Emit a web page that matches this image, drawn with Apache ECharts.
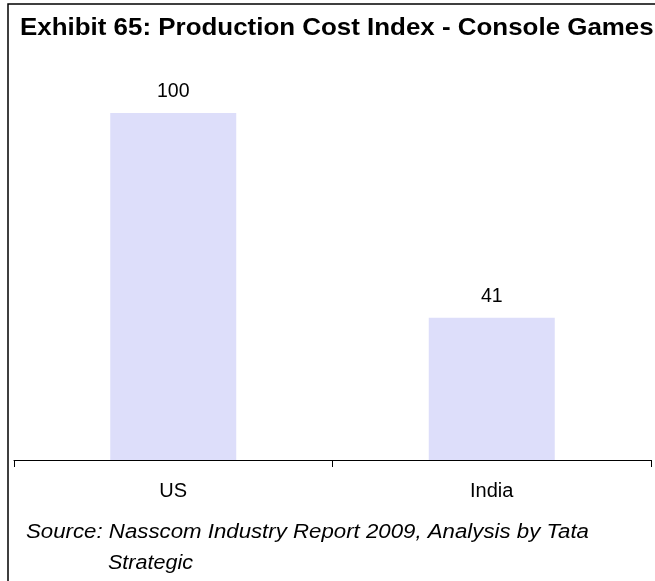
<!DOCTYPE html>
<html>
<head>
<meta charset="utf-8">
<script src="https://cdn.jsdelivr.net/npm/echarts@6/dist/echarts.min.js"></script>
<style>
  html, body { margin: 0; padding: 0; background: #fff; }
  #chart { width: 655px; height: 581px; }
</style>
</head>
<body>
<div id="chart"></div>
<script>
// Production cost index, US = 100
var categories = ['US', 'India'];
var costIndex = [100, 41];

var titleText = 'Exhibit 65: Production Cost Index - Console Games';
var sourceLine1 = 'Source: Nasscom Industry Report 2009, Analysis by Tata';
var sourceLine2 = 'Strategic';

var chart = echarts.init(document.getElementById('chart'), null, { renderer: 'canvas' });

chart.setOption({
  backgroundColor: '#ffffff',
  animation: false,
  grid: { left: 14, right: 4, top: 113, bottom: 121, containLabel: false },
  xAxis: {
    type: 'category',
    data: categories,
    boundaryGap: true,
    axisLine: { show: true, lineStyle: { color: '#000', width: 1 } },
    axisTick: { show: true, length: 7, lineStyle: { color: '#000', width: 1 } },
    axisLabel: {
      color: '#000',
      fontFamily: '"Liberation Sans", Arial, sans-serif',
      fontSize: 20,
      margin: 21
    }
  },
  yAxis: {
    type: 'value',
    min: 0,
    max: 100,
    show: false,
    splitLine: { show: false }
  },
  series: [{
    type: 'bar',
    data: costIndex,
    barWidth: 126,
    itemStyle: { color: '#DDDEFA' },
    label: {
      show: true,
      position: 'top',
      distance: 11,
      color: '#000',
      fontFamily: 'Liberation Sans, Arial, sans-serif',
      fontSize: 19.5
    }
  }],
  graphic: [
    {
      type: 'rect',
      shape: { x: 8, y: 4, width: 800, height: 800 },
      style: { fill: 'none', stroke: '#000', lineWidth: 1.5 },
      silent: true
    },
    {
      type: 'text',
      x: 20,
      y: 28.5,
      scaleX: 1.08,
      style: {
        text: titleText,
        fill: '#000',
        font: 'bold 24px "Liberation Sans", Arial, sans-serif',
        textVerticalAlign: 'middle'
      }
    },
    {
      type: 'text',
      x: 26,
      y: 532,
      scaleX: 1.085,
      style: {
        text: sourceLine1,
        fill: '#000',
        font: 'italic 20.5px "Liberation Sans", Arial, sans-serif',
        textVerticalAlign: 'middle'
      }
    },
    {
      type: 'text',
      x: 108,
      y: 563,
      scaleX: 1.05,
      style: {
        text: sourceLine2,
        fill: '#000',
        font: 'italic 20.5px "Liberation Sans", Arial, sans-serif',
        textVerticalAlign: 'middle'
      }
    }
  ]
});
</script>
</body>
</html>
